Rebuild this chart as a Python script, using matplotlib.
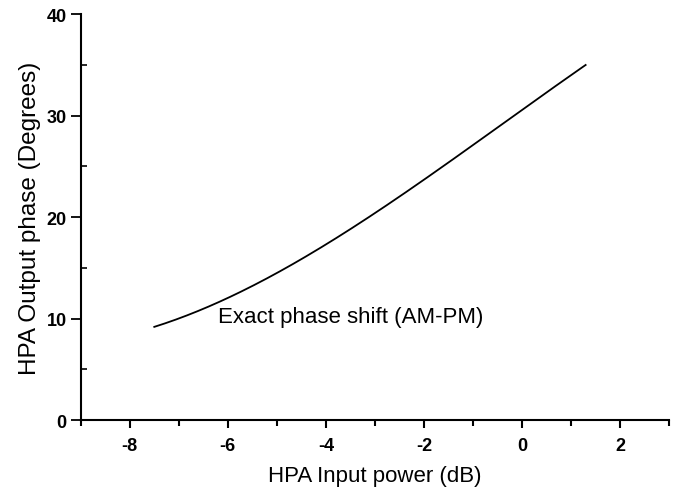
import numpy as np
import matplotlib
matplotlib.use("Agg")
import matplotlib.pyplot as plt
from matplotlib.ticker import MultipleLocator

# values
input_db = [-7.5, -7, -6, -5, -4, -3, -2, -1, 0, 1, 1.3]
phase_deg = [9.2, 10.0, 12.0, 14.5, 17.3, 20.4, 23.7, 27.1, 30.5, 34.0, 35.0]
curve_label = "Exact phase shift (AM-PM)"

plt.rcParams['font.family'] = ['Liberation Sans', 'DejaVu Sans']
plt.rcParams['axes.unicode_minus'] = False

fig = plt.figure(figsize=(6.73, 4.89), dpi=100)
ax = fig.add_axes([0.120, 0.139, 0.874, 0.830])

# smooth the hand-read points a bit
xs = np.linspace(input_db[0], input_db[-1], 200)
coef = np.polyfit(input_db, phase_deg, 3)
ax.plot(xs, np.polyval(coef, xs), color="black", lw=1.3)

ax.text(-6.2, 9.65, curve_label, fontsize=16, va="baseline", ha="left")

ax.set_xlim(-9, 3)
ax.set_ylim(0, 40)
ax.xaxis.set_major_locator(MultipleLocator(2))
ax.xaxis.set_minor_locator(MultipleLocator(1))
ax.yaxis.set_major_locator(MultipleLocator(10))
ax.yaxis.set_minor_locator(MultipleLocator(5))

for s in ["top", "right"]:
    ax.spines[s].set_visible(False)
for s in ["left", "bottom"]:
    ax.spines[s].set_linewidth(1.5)

ax.tick_params(axis="x", which="major", direction="out", length=6, width=1.5,
               labelsize=13, pad=6)
ax.tick_params(axis="x", which="minor", direction="out", length=4, width=1.5)
ax.tick_params(axis="y", which="major", direction="out", length=7, width=1.3,
               labelsize=13, pad=3)
ax.tick_params(axis="y", which="minor", direction="in", length=4, width=1.2)
for lab in ax.get_xticklabels() + ax.get_yticklabels():
    lab.set_fontweight("bold")

ax.set_xlabel("HPA Input power (dB)", fontsize=16, labelpad=8)
ax.set_ylabel("HPA Output phase (Degrees)", fontsize=17.5, labelpad=4)

fig.savefig("out.png", dpi=100)
